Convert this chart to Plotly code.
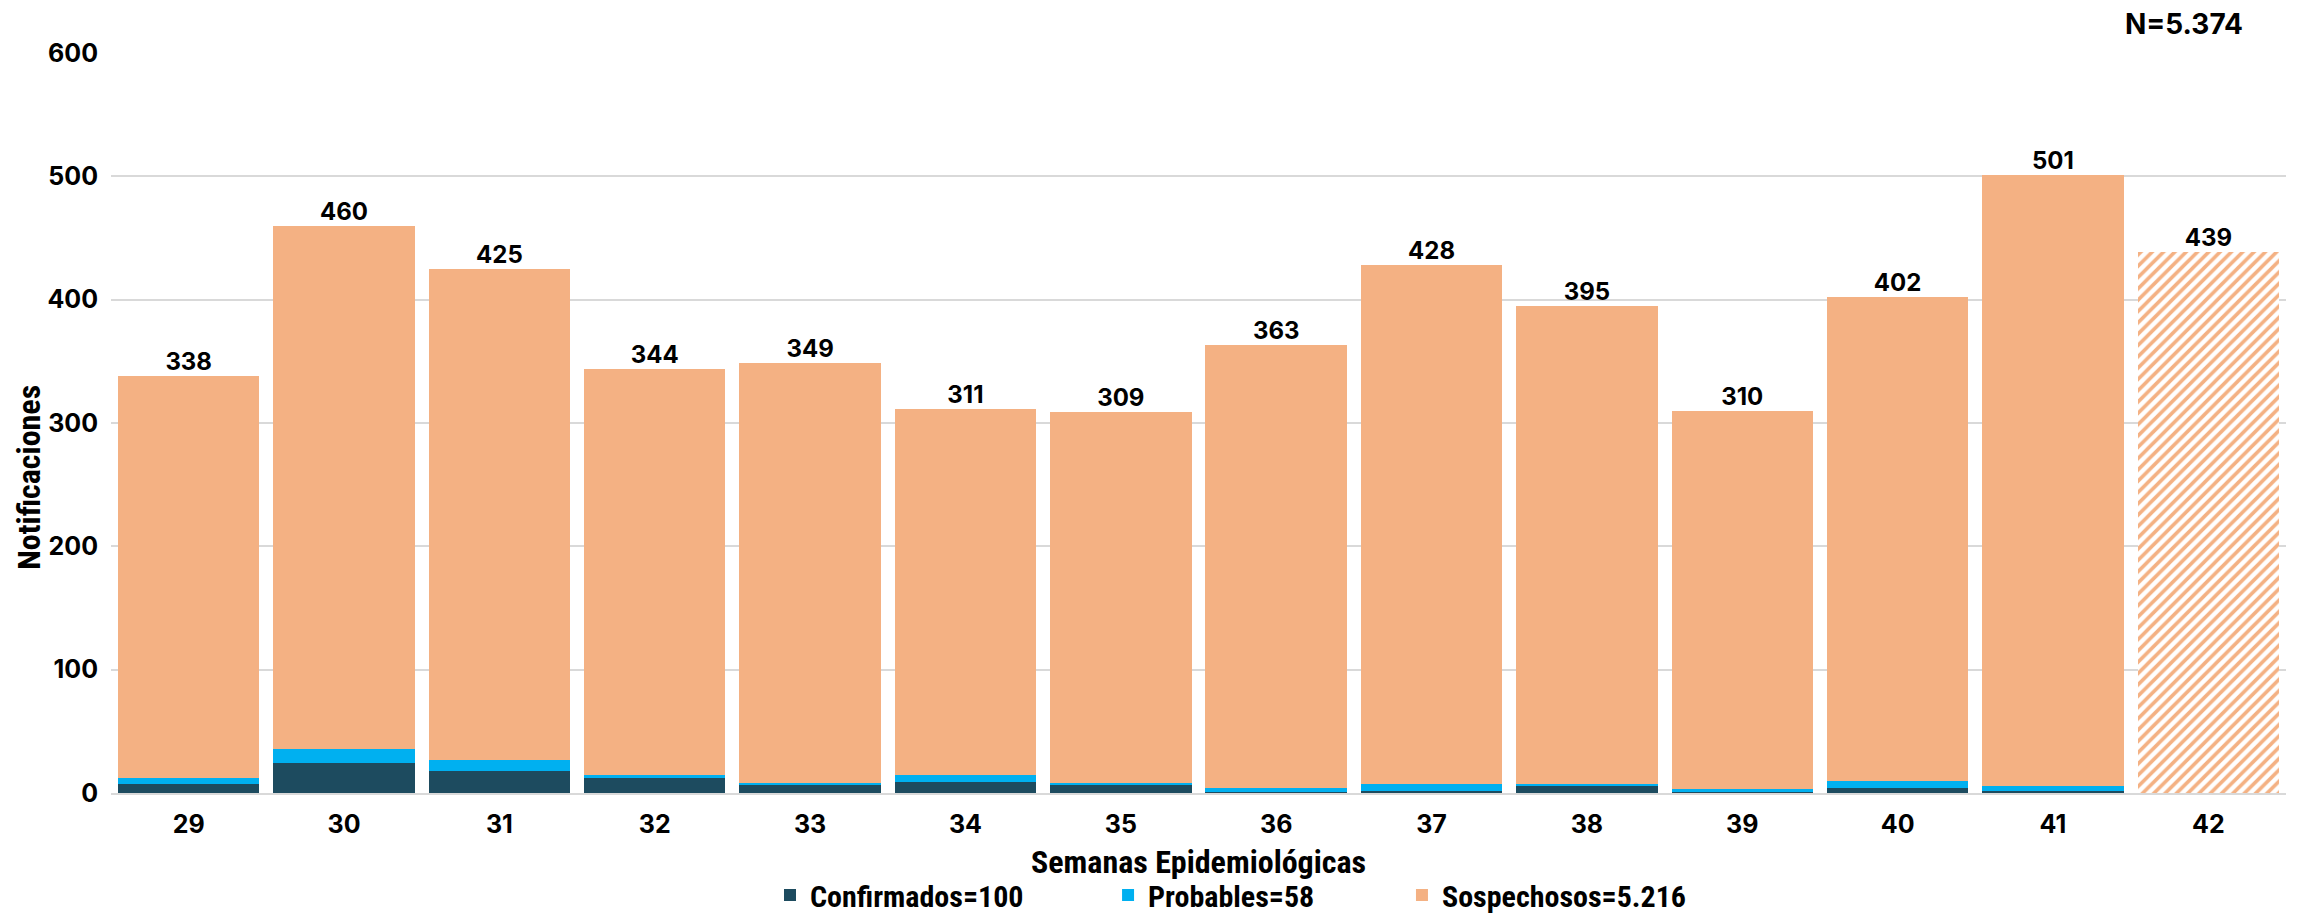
import plotly.graph_objects as go

weeks = ["29", "30", "31", "32", "33", "34", "35", "36", "37", "38", "39", "40", "41", "42"]
confirmados = [7, 24, 18, 12, 7, 9, 7, 1, 2, 6, 1, 4, 2, 0]
probables = [5, 12, 9, 3, 1, 6, 1, 3, 5, 1, 2, 6, 4, 0]
sospechosos = [326, 424, 398, 329, 341, 296, 301, 359, 421, 388, 307, 392, 495, 439]
totales = [338, 460, 425, 344, 349, 311, 309, 363, 428, 395, 310, 402, 501, 439]
partial_week = "42"

legend_names = ["Confirmados=100", "Probables=58", "Sospechosos=5.216"]
y_ticks = [0, 100, 200, 300, 400, 500, 600]

C_CONF = "#1D4B5F"
C_PROB = "#00B0F0"
C_SOSP = "#F4B183"

TICK_FONT = dict(family="Inter, Open Sans, sans-serif", size=25, color="#000000", weight="bold")
LBL_FONT = dict(family="Inter, Open Sans, sans-serif", size=24, color="#000000", weight="bold")
COND_FONT = dict(family="Liberation Sans Narrow, Roboto Condensed, Roboto, sans-serif", size=32, color="#000000", weight="bold")
LEG_FONT = dict(family="Liberation Sans Narrow, Roboto Condensed, Roboto, sans-serif", size=30, color="#000000", weight="bold")

full_idx = [i for i, w in enumerate(weeks) if w != partial_week]
part_idx = [i for i, w in enumerate(weeks) if w == partial_week]

fig = go.Figure()
fig.add_bar(x=weeks, y=confirmados, name=legend_names[0], legend="legend",
            marker=dict(color=C_CONF, line=dict(width=0)))
fig.add_bar(x=weeks, y=probables, name=legend_names[1], legend="legend2",
            marker=dict(color=C_PROB, line=dict(width=0)))
fig.add_bar(x=[weeks[i] for i in full_idx], y=[sospechosos[i] for i in full_idx],
            name=legend_names[2], legend="legend3", marker=dict(color=C_SOSP, line=dict(width=0)))
fig.add_bar(x=[weeks[i] for i in part_idx], y=[sospechosos[i] for i in part_idx],
            name=legend_names[2], showlegend=False,
            marker=dict(color=C_SOSP, line=dict(width=0),
                        pattern=dict(shape="/", fillmode="replace", size=8, solidity=0.45,
                                     fgcolor=C_SOSP, bgcolor="white")))

fig.add_scatter(x=weeks, y=totales, mode="text", text=[str(t) for t in totales],
                textposition="top center", textfont=LBL_FONT, showlegend=False, hoverinfo="skip",
                cliponaxis=False)

fig.add_annotation(x=0.981, y=1.039, xref="paper", yref="paper", xanchor="right", yanchor="middle",
                   text="N=5.374", showarrow=False,
                   font=dict(family="Inter, Open Sans, sans-serif", size=28, color="#000000", weight="bold"))
fig.add_annotation(x=0.5, y=-0.093, xref="paper", yref="paper", xanchor="center", yanchor="middle",
                   text="Semanas Epidemiológicas", showarrow=False, font=COND_FONT)
fig.add_annotation(x=-0.0377, y=0.426, xref="paper", yref="paper", xanchor="center", yanchor="middle",
                   text="Notificaciones", textangle=-90, showarrow=False, font=COND_FONT)

leg_common = dict(orientation="h", xanchor="left", xref="container", y=0.0, yanchor="bottom",
                  yref="container", font=LEG_FONT, itemwidth=30, bgcolor="rgba(0,0,0,0)")

fig.update_layout(
    width=2298, height=913,
    barmode="stack", bargap=0.09,
    plot_bgcolor="white", paper_bgcolor="white",
    margin=dict(l=103, r=20, t=45, b=128, autoexpand=False),
    showlegend=True,
    legend=dict(x=0.3316, **leg_common),
    legend2=dict(x=0.4787, **leg_common),
    legend3=dict(x=0.6066, **leg_common),
    xaxis=dict(type="category", automargin=False, range=[-0.5, len(weeks) - 0.5],
               tickfont=TICK_FONT, showgrid=False, ticks="", showline=True, linecolor="#D9D9D9", linewidth=2,
               ticklabelstandoff=8),
    yaxis=dict(automargin=False,
               tickfont=TICK_FONT, range=[0, 600], tickvals=y_ticks,
               showgrid=True, gridcolor="#D9D9D9", gridwidth=2, zeroline=False, ticks="",
               ticklabelstandoff=12),
)

fig.write_html("out.html")
